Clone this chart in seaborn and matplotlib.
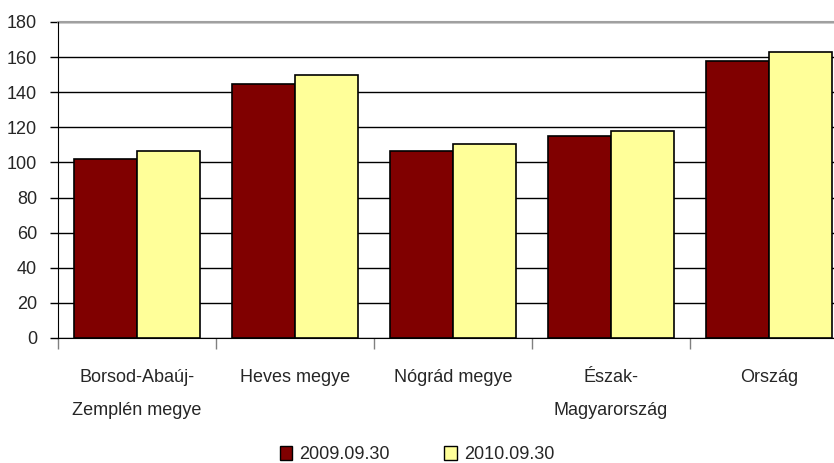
import pandas as pd
import numpy as np
import matplotlib
matplotlib.use("Agg")
import matplotlib.pyplot as plt
import seaborn as sns
from matplotlib.ticker import FixedLocator

# data
regions = ["Borsod-Abaúj-\nZemplén megye", "Heves megye", "Nógrád megye",
           "Észak-\nMagyarország", "Ország"]
val_2009 = [102, 144.5, 106.7, 115, 158]
val_2010 = [106.7, 150, 110.3, 118, 163]
series = ["2009.09.30", "2010.09.30"]
colors = ["#800000", "#FFFF99"]

df = pd.DataFrame({
    "region": regions * 2,
    "value": val_2009 + val_2010,
    "date": [series[0]] * 5 + [series[1]] * 5,
})

sns.set_style("white")
plt.rcParams["font.family"] = ["Liberation Sans", "DejaVu Sans"]

fig = plt.figure(figsize=(8.34, 4.63), dpi=100)
ax = fig.add_axes([58 / 834, 1 - 338 / 463, 1 - 58 / 834, 316 / 463])

sns.barplot(data=df, x="region", y="value", hue="date", palette=colors,
            width=0.8, edgecolor="black", linewidth=1.2, saturation=1,
            legend=False, ax=ax, zorder=3)

ax.set_ylim(0, 180)
ax.set_xlim(-0.5, (834 - 58) / 158 - 0.5)
ax.set_yticks(np.arange(0, 181, 20))
ax.tick_params(axis="y", labelsize=13, length=6, width=1, color="black",
               left=True, pad=9)
ax.yaxis.grid(True, color="black", linewidth=1, zorder=0)
ax.set_axisbelow(True)

# category separators as ticks, labels at centres
ax.xaxis.set_minor_locator(FixedLocator(np.arange(-0.5, 5, 1)))
ax.tick_params(axis="x", which="minor", length=8, width=1, color="#808080",
               bottom=True)
ax.tick_params(axis="x", which="major", length=0, labelsize=13, pad=22)
for lab in ax.get_xticklabels():
    lab.set_linespacing(2.3)
    lab.set_verticalalignment("top")

ax.set_xlabel("")
ax.set_ylabel("")
for s in ["top", "right"]:
    ax.spines[s].set_visible(False)
ax.spines["left"].set_color("black")
ax.spines["bottom"].set_color("black")
ax.axhline(180, color="#a0a0a0", linewidth=1.5, zorder=1, clip_on=False)

handles = [plt.Rectangle((0, 0), 1, 1, facecolor=c, edgecolor="black", linewidth=1)
           for c in colors]
fig.legend(handles, series, loc="lower center", ncol=2, frameon=False,
           fontsize=13, handlelength=0.7, handleheight=0.8, handletextpad=0.4,
           columnspacing=3.0, bbox_to_anchor=(0.5, -0.035))

fig.savefig("out.png", dpi=100)
